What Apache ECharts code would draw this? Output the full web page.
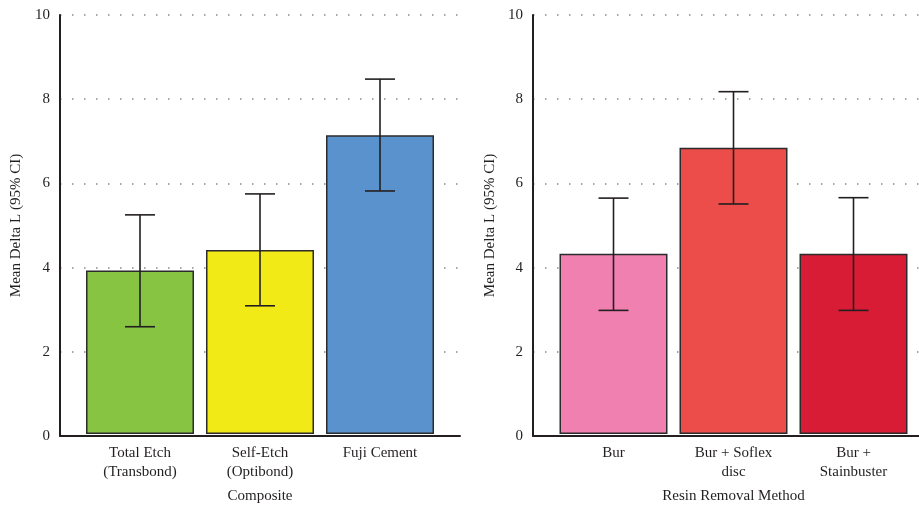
<!DOCTYPE html>
<html>
<head>
<meta charset="utf-8">
<script src="https://cdn.jsdelivr.net/npm/echarts@6/dist/echarts.min.js"></script>
<style>
  html, body { margin: 0; padding: 0; background: #fff; }
  #chart { width: 919px; height: 509px; }
</style>
</head>
<body>
<div id="chart"></div>
<script>
// Left panel: composite type
const compositeCategories = ['Total Etch\n(Transbond)', 'Self-Etch\n(Optibond)', 'Fuji Cement'];
const compositeMeans = [3.90, 4.39, 7.13];
const compositeLower = [2.56, 3.06, 5.80];
const compositeUpper = [5.23, 5.73, 8.47];
const compositeColors = ['#86C442', '#F2EA17', '#5A92CD'];

// Right panel: resin removal method
const removalCategories = ['Bur', 'Bur + Soflex\ndisc', 'Bur +\nStainbuster'];
const removalMeans = [4.30, 6.83, 4.30];
const removalLower = [2.95, 5.49, 2.95];
const removalUpper = [5.63, 8.17, 5.64];
const removalColors = ['#F080B0', '#EC4C4A', '#D91C35'];

const yTicks = [0, 2, 4, 6, 8, 10];
const yAxisTitle = 'Mean Delta L (95% CI)';

const FONT = '"Liberation Serif", "DejaVu Serif", serif';
const TEXT = '#231F20';
const FS = 15;

const chart = echarts.init(document.getElementById('chart'));

// Frame grid: carries the y axis, dotted split lines and the full-width baseline
function frameAxes(gridIndex, nameGap) {
  return {
    x: {
      type: 'value', gridIndex, min: 0, max: 1,
      axisLine: { show: true, lineStyle: { color: '#231F20', width: 2 } },
      axisTick: { show: false }, axisLabel: { show: false }, splitLine: { show: false }
    },
    y: {
      type: 'value', gridIndex, min: yTicks[0], max: yTicks[yTicks.length - 1], interval: 2,
      name: yAxisTitle, nameLocation: 'middle', nameGap,
      nameTextStyle: { fontFamily: FONT, fontSize: FS, color: TEXT },
      axisLine: { show: true, lineStyle: { color: '#231F20', width: 2 } },
      axisTick: { show: false },
      axisLabel: { fontFamily: FONT, fontSize: FS, color: TEXT, margin: 10 },
      splitLine: { show: true, lineStyle: { color: '#8a8a8a', width: 1.5, type: [1.5, 10.5] } }
    }
  };
}

// Plot grid: inset category axis holding the bars and error bars
function plotAxes(gridIndex, cats, xName) {
  return {
    x: {
      type: 'category', gridIndex, data: cats,
      name: xName, nameLocation: 'middle', nameGap: 55,
      nameTextStyle: { fontFamily: FONT, fontSize: FS, color: TEXT },
      axisLine: { show: false }, axisTick: { show: false },
      axisLabel: { fontFamily: FONT, fontSize: FS, color: TEXT, margin: 10, lineHeight: 19, interval: 0 }
    },
    y: {
      type: 'value', gridIndex, min: 0, max: 10, show: false, splitLine: { show: false }
    }
  };
}

const fA = frameAxes(0, 36);
const pB = plotAxes(1, compositeCategories, 'Composite');
const fC = frameAxes(2, 35);
const pD = plotAxes(3, removalCategories, 'Resin Removal Method');

function barSeries(axisIdx, means, colors) {
  return {
    type: 'bar', xAxisIndex: axisIdx, yAxisIndex: axisIdx, barWidth: '90%',
    data: means.map((v, i) => ({
      value: v,
      itemStyle: { color: colors[i], borderColor: '#2b2b2b', borderWidth: 1.5 }
    })),
    z: 2
  };
}

function errorSeries(axisIdx, lower, upper) {
  return {
    type: 'custom', xAxisIndex: axisIdx, yAxisIndex: axisIdx, z: 5,
    data: lower.map((lo, i) => [i, lo, upper[i]]),
    renderItem(params, api) {
      const top = api.coord([api.value(0), api.value(2)]);
      const bot = api.coord([api.value(0), api.value(1)]);
      const half = 15;
      const style = { stroke: '#231F20', lineWidth: 1.6 };
      return {
        type: 'group',
        children: [
          { type: 'line', shape: { x1: top[0], y1: top[1], x2: bot[0], y2: bot[1] }, style },
          { type: 'line', shape: { x1: top[0] - half, y1: top[1], x2: top[0] + half, y2: top[1] }, style },
          { type: 'line', shape: { x1: bot[0] - half, y1: bot[1], x2: bot[0] + half, y2: bot[1] }, style }
        ]
      };
    }
  };
}

chart.setOption({
  animation: false,
  backgroundColor: '#ffffff',
  grid: [
    { left: 60, top: 15, width: 400, height: 421 },
    { left: 80, top: 15, width: 360, height: 421 },
    { left: 533, top: 15, width: 400, height: 421 },
    { left: 553.5, top: 15, width: 360, height: 421 }
  ],
  xAxis: [fA.x, pB.x, fC.x, pD.x],
  yAxis: [fA.y, pB.y, fC.y, pD.y],
  series: [
    barSeries(1, compositeMeans, compositeColors),
    errorSeries(1, compositeLower, compositeUpper),
    barSeries(3, removalMeans, removalColors),
    errorSeries(3, removalLower, removalUpper)
  ]
});
</script>
</body>
</html>
